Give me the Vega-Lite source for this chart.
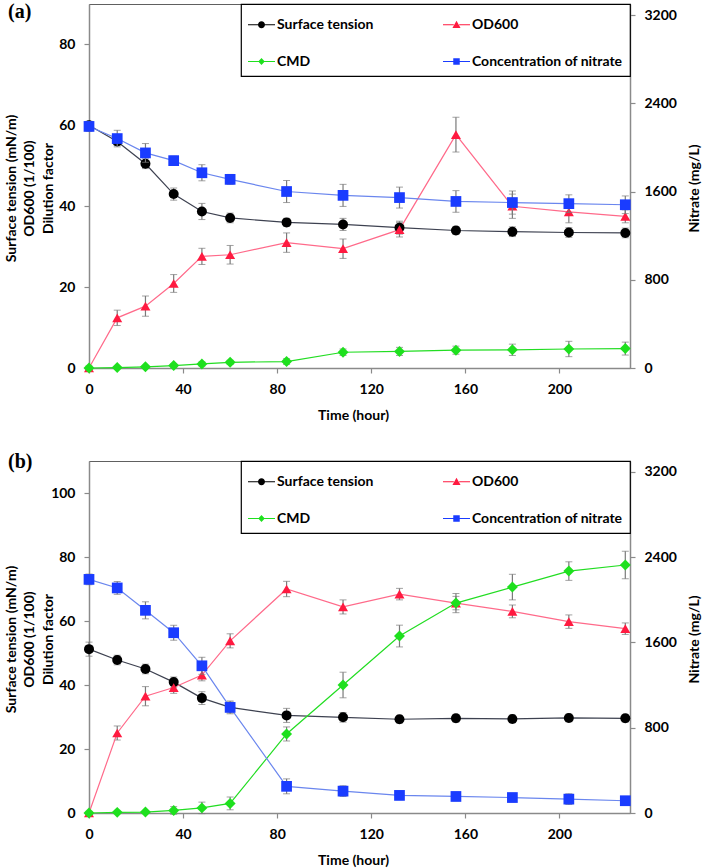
{
  "$schema": "https://vega.github.io/schema/vega-lite/v6.json",
  "padding": {"left": 3, "top": 1, "right": 0, "bottom": 0},
  "background": "white",
  "datasets": {
    "rows": [
      {"panel":"a","series":"Surface tension","t":0,"value":60,"err":1},
      {"panel":"a","series":"Surface tension","t":12,"value":56,"err":1},
      {"panel":"a","series":"Surface tension","t":24,"value":50.5,"err":1.2},
      {"panel":"a","series":"Surface tension","t":36,"value":43,"err":1.5},
      {"panel":"a","series":"Surface tension","t":48,"value":38.7,"err":2},
      {"panel":"a","series":"Surface tension","t":60,"value":37.1,"err":1.2},
      {"panel":"a","series":"Surface tension","t":84,"value":36,"err":1},
      {"panel":"a","series":"Surface tension","t":108,"value":35.5,"err":1.5},
      {"panel":"a","series":"Surface tension","t":132,"value":34.7,"err":1.6},
      {"panel":"a","series":"Surface tension","t":156,"value":34,"err":1},
      {"panel":"a","series":"Surface tension","t":180,"value":33.7,"err":1.2},
      {"panel":"a","series":"Surface tension","t":204,"value":33.5,"err":1.2},
      {"panel":"a","series":"Surface tension","t":228,"value":33.4,"err":1.2},
      {"panel":"a","series":"OD600","t":0,"value":0,"err":0.5},
      {"panel":"a","series":"OD600","t":12,"value":12.4,"err":1.9},
      {"panel":"a","series":"OD600","t":24,"value":15.3,"err":2.5},
      {"panel":"a","series":"OD600","t":36,"value":20.9,"err":2.2},
      {"panel":"a","series":"OD600","t":48,"value":27.6,"err":2},
      {"panel":"a","series":"OD600","t":60,"value":28,"err":2.3},
      {"panel":"a","series":"OD600","t":84,"value":31,"err":2.4},
      {"panel":"a","series":"OD600","t":108,"value":29.5,"err":2.4},
      {"panel":"a","series":"OD600","t":132,"value":34.2,"err":1.8},
      {"panel":"a","series":"OD600","t":156,"value":57.7,"err":4.3},
      {"panel":"a","series":"OD600","t":180,"value":40,"err":3},
      {"panel":"a","series":"OD600","t":204,"value":38.6,"err":2.7},
      {"panel":"a","series":"OD600","t":228,"value":37.5,"err":1.6},
      {"panel":"a","series":"CMD","t":0,"value":0,"err":0.2},
      {"panel":"a","series":"CMD","t":12,"value":0.1,"err":0.2},
      {"panel":"a","series":"CMD","t":24,"value":0.3,"err":0.3},
      {"panel":"a","series":"CMD","t":36,"value":0.6,"err":0.4},
      {"panel":"a","series":"CMD","t":48,"value":1,"err":0.5},
      {"panel":"a","series":"CMD","t":60,"value":1.4,"err":0.5},
      {"panel":"a","series":"CMD","t":84,"value":1.6,"err":0.7},
      {"panel":"a","series":"CMD","t":108,"value":3.9,"err":0.8},
      {"panel":"a","series":"CMD","t":132,"value":4.1,"err":1},
      {"panel":"a","series":"CMD","t":156,"value":4.4,"err":1},
      {"panel":"a","series":"CMD","t":180,"value":4.5,"err":1.4},
      {"panel":"a","series":"CMD","t":204,"value":4.7,"err":1.9},
      {"panel":"a","series":"CMD","t":228,"value":4.8,"err":1.6},
      {"panel":"a","series":"Concentration of nitrate","t":0,"value":2190,"err":45},
      {"panel":"a","series":"Concentration of nitrate","t":12,"value":2080,"err":75},
      {"panel":"a","series":"Concentration of nitrate","t":24,"value":1950,"err":85},
      {"panel":"a","series":"Concentration of nitrate","t":36,"value":1880,"err":40},
      {"panel":"a","series":"Concentration of nitrate","t":48,"value":1770,"err":73},
      {"panel":"a","series":"Concentration of nitrate","t":60,"value":1710,"err":45},
      {"panel":"a","series":"Concentration of nitrate","t":84,"value":1600,"err":100},
      {"panel":"a","series":"Concentration of nitrate","t":108,"value":1565,"err":100},
      {"panel":"a","series":"Concentration of nitrate","t":132,"value":1545,"err":95},
      {"panel":"a","series":"Concentration of nitrate","t":156,"value":1510,"err":98},
      {"panel":"a","series":"Concentration of nitrate","t":180,"value":1500,"err":105},
      {"panel":"a","series":"Concentration of nitrate","t":204,"value":1490,"err":80},
      {"panel":"a","series":"Concentration of nitrate","t":228,"value":1480,"err":80},
      {"panel":"b","series":"Surface tension","t":0,"value":51.2,"err":2.2},
      {"panel":"b","series":"Surface tension","t":12,"value":47.8,"err":1.5},
      {"panel":"b","series":"Surface tension","t":24,"value":45,"err":1.5},
      {"panel":"b","series":"Surface tension","t":36,"value":40.9,"err":1.6},
      {"panel":"b","series":"Surface tension","t":48,"value":35.9,"err":2},
      {"panel":"b","series":"Surface tension","t":60,"value":33,"err":1.7},
      {"panel":"b","series":"Surface tension","t":84,"value":30.5,"err":2.2},
      {"panel":"b","series":"Surface tension","t":108,"value":29.9,"err":1.5},
      {"panel":"b","series":"Surface tension","t":132,"value":29.3,"err":1.2},
      {"panel":"b","series":"Surface tension","t":156,"value":29.6,"err":1.2},
      {"panel":"b","series":"Surface tension","t":180,"value":29.4,"err":1.2},
      {"panel":"b","series":"Surface tension","t":204,"value":29.7,"err":1.2},
      {"panel":"b","series":"Surface tension","t":228,"value":29.6,"err":1.2},
      {"panel":"b","series":"OD600","t":0,"value":0,"err":0.5},
      {"panel":"b","series":"OD600","t":12,"value":25,"err":2.2},
      {"panel":"b","series":"OD600","t":24,"value":36.5,"err":3},
      {"panel":"b","series":"OD600","t":36,"value":39.2,"err":1.8},
      {"panel":"b","series":"OD600","t":48,"value":43.1,"err":1.8},
      {"panel":"b","series":"OD600","t":60,"value":53.8,"err":2.2},
      {"panel":"b","series":"OD600","t":84,"value":70,"err":2.4},
      {"panel":"b","series":"OD600","t":108,"value":64.4,"err":2.2},
      {"panel":"b","series":"OD600","t":132,"value":68.4,"err":1.8},
      {"panel":"b","series":"OD600","t":156,"value":65.6,"err":2.1},
      {"panel":"b","series":"OD600","t":180,"value":63,"err":2},
      {"panel":"b","series":"OD600","t":204,"value":59.8,"err":2.1},
      {"panel":"b","series":"OD600","t":228,"value":57.6,"err":1.8},
      {"panel":"b","series":"CMD","t":0,"value":0,"err":0.2},
      {"panel":"b","series":"CMD","t":12,"value":0.2,"err":0.2},
      {"panel":"b","series":"CMD","t":24,"value":0.3,"err":0.3},
      {"panel":"b","series":"CMD","t":36,"value":0.8,"err":1.2},
      {"panel":"b","series":"CMD","t":48,"value":1.6,"err":1.8},
      {"panel":"b","series":"CMD","t":60,"value":3,"err":2},
      {"panel":"b","series":"CMD","t":84,"value":24.7,"err":2.2},
      {"panel":"b","series":"CMD","t":108,"value":40,"err":4},
      {"panel":"b","series":"CMD","t":132,"value":55.3,"err":3.4},
      {"panel":"b","series":"CMD","t":156,"value":65.6,"err":3},
      {"panel":"b","series":"CMD","t":180,"value":70.6,"err":4},
      {"panel":"b","series":"CMD","t":204,"value":75.6,"err":2.9},
      {"panel":"b","series":"CMD","t":228,"value":77.5,"err":4.3},
      {"panel":"b","series":"Concentration of nitrate","t":0,"value":2190,"err":50},
      {"panel":"b","series":"Concentration of nitrate","t":12,"value":2110,"err":60},
      {"panel":"b","series":"Concentration of nitrate","t":24,"value":1900,"err":80},
      {"panel":"b","series":"Concentration of nitrate","t":36,"value":1690,"err":70},
      {"panel":"b","series":"Concentration of nitrate","t":48,"value":1380,"err":80},
      {"panel":"b","series":"Concentration of nitrate","t":60,"value":990,"err":60},
      {"panel":"b","series":"Concentration of nitrate","t":84,"value":250,"err":70},
      {"panel":"b","series":"Concentration of nitrate","t":108,"value":205,"err":50},
      {"panel":"b","series":"Concentration of nitrate","t":132,"value":165,"err":40},
      {"panel":"b","series":"Concentration of nitrate","t":156,"value":155,"err":40},
      {"panel":"b","series":"Concentration of nitrate","t":180,"value":145,"err":40},
      {"panel":"b","series":"Concentration of nitrate","t":204,"value":130,"err":50},
      {"panel":"b","series":"Concentration of nitrate","t":228,"value":115,"err":40}
    ]
  },
  "data": {"name": "rows"},
  "spacing": 28,
  "vconcat": [
    {
      "width": 541, "height": 364,
      "title": {"text": "(a)", "anchor": "start", "frame": "group", "font": "Liberation Serif", "fontSize": 20, "fontWeight": "bold", "color": "#000", "baseline": "top", "offset": -19, "dx": -81, "dy": 0},
      "transform": [{"filter": "datum.panel === 'a'"}],
      "layer": [
        {
          "transform": [{"filter": "datum.series !== 'Concentration of nitrate'"}],
          "encoding": {
            "x": {"field": "t", "type": "quantitative", "scale": {"domain": [0, 230], "nice": false}, "axis": {"values": [0, 40, 80, 120, 160, 200], "title": "Time (hour)", "titleX": 264, "titleY": 40, "titleBaseline": "top"}},
            "y": {"field": "value", "type": "quantitative", "scale": {"domain": [0, 90], "nice": false}, "axis": {"orient": "left", "values": [0, 20, 40, 60, 80], "title": ["Surface tension (mN/m)", "OD600 (1/100)", "Dilution factor"], "titleX": -78, "titleY": 184, "titleAngle": 270, "titleAlign": "center", "titleBaseline": "middle", "titleLineHeight": 18.5}}
          },
          "layer": [
            {"mark": {"type": "errorbar", "ticks": {"size": 7, "color": "#7a7a7a", "strokeWidth": 1.2}, "rule": {"color": "#7a7a7a", "strokeWidth": 1.2}}, "encoding": {"yError": {"field": "err"}}},
            {"mark": {"type": "line", "strokeWidth": 1.2}, "encoding": {"stroke": {"field": "series", "type": "nominal", "scale": {"domain": ["Surface tension", "OD600", "CMD"], "range": ["#3d4150", "#ff6a8a", "#22dd22"]}, "legend": null}}},
            {"transform": [{"filter": "datum.series === 'Surface tension'"}], "mark": {"type": "point", "filled": true, "opacity": 1, "size": 100, "shape": "circle", "color": "#000000"}},
            {"transform": [{"filter": "datum.series === 'OD600'"}], "mark": {"type": "point", "filled": true, "opacity": 1, "size": 100, "shape": "triangle-up", "color": "#ff1a40"}},
            {"transform": [{"filter": "datum.series === 'CMD'"}], "mark": {"type": "point", "filled": true, "opacity": 1, "size": 120, "shape": "diamond", "color": "#1ee01e"}}
          ]
        },
        {
          "transform": [{"filter": "datum.series === 'Concentration of nitrate'"}],
          "encoding": {
            "x": {"field": "t", "type": "quantitative", "scale": {"domain": [0, 230], "nice": false}, "axis": {"values": [0, 40, 80, 120, 160, 200], "title": "Time (hour)", "titleX": 264, "titleY": 40, "titleBaseline": "top"}},
            "y": {"field": "value", "type": "quantitative", "scale": {"domain": [0, 3300], "nice": false}, "axis": {"orient": "right", "format": "d", "values": [0, 800, 1600, 2400, 3200], "title": "Nitrate (mg/L)", "titleX": 64, "titleY": 184, "titleAngle": 270, "titleAlign": "center", "titleBaseline": "middle"}}
          },
          "layer": [
            {"mark": {"type": "errorbar", "ticks": {"size": 7, "color": "#7a7a7a", "strokeWidth": 1.2}, "rule": {"color": "#7a7a7a", "strokeWidth": 1.2}}, "encoding": {"yError": {"field": "err"}}},
            {"mark": {"type": "line", "strokeWidth": 1.2, "color": "#6a86ee"}},
            {"mark": {"type": "point", "filled": true, "opacity": 1, "size": 115, "shape": "square", "color": "#1a3cff"}}
          ]
        },
        {
          "transform": [{"filter": "datum.t < 0"}],
          "mark": {"type": "point", "filled": true, "opacity": 1, "size": 729},
          "encoding": {
            "fill": {"field": "series", "type": "nominal", "scale": {"domain": ["Surface tension", "CMD", "OD600", "Concentration of nitrate"], "range": ["#000000", "#1ee01e", "#ff1a40", "#1a3cff"]}, "legend": {"title": null}},
            "shape": {"field": "series", "type": "nominal", "scale": {"domain": ["Surface tension", "CMD", "OD600", "Concentration of nitrate"], "range": [
              "M-1,-0.04H-0.2V0.04H-1ZM0.2,-0.04H1V0.04H0.2ZM0.26,0A0.26,0.26,0,1,1,-0.26,0A0.26,0.26,0,1,1,0.26,0Z",
              "M-1,-0.04H-0.2V0.04H-1ZM0.2,-0.04H1V0.04H0.2ZM0,-0.26L0.24,0L0,0.26L-0.24,0Z",
              "M-1,-0.04H-0.2V0.04H-1ZM0.2,-0.04H1V0.04H0.2ZM0,-0.3L0.3,0.24L-0.3,0.24Z",
              "M-1,-0.04H-0.2V0.04H-1ZM0.2,-0.04H1V0.04H0.2ZM-0.24,-0.24H0.24V0.24H-0.24Z"
            ]}, "legend": {"title": null}}
          }
        }
      ],
      "resolve": {"scale": {"y": "independent"}}
    },
    {
      "width": 541, "height": 352,
      "title": {"text": "(b)", "anchor": "start", "frame": "group", "font": "Liberation Serif", "fontSize": 20, "fontWeight": "bold", "color": "#000", "baseline": "top", "offset": -12, "dx": -81, "dy": 0},
      "transform": [{"filter": "datum.panel === 'b'"}],
      "layer": [
        {
          "transform": [{"filter": "datum.series !== 'Concentration of nitrate'"}],
          "encoding": {
            "x": {"field": "t", "type": "quantitative", "scale": {"domain": [0, 230], "nice": false}, "axis": {"values": [0, 40, 80, 120, 160, 200], "title": "Time (hour)", "titleX": 264, "titleY": 40, "titleBaseline": "top"}},
            "y": {"field": "value", "type": "quantitative", "scale": {"domain": [0, 110], "nice": false}, "axis": {"orient": "left", "values": [0, 20, 40, 60, 80, 100], "title": ["Surface tension (mN/m)", "OD600 (1/100)", "Dilution factor"], "titleX": -78, "titleY": 178, "titleAngle": 270, "titleAlign": "center", "titleBaseline": "middle", "titleLineHeight": 18.5}}
          },
          "layer": [
            {"mark": {"type": "errorbar", "ticks": {"size": 7, "color": "#7a7a7a", "strokeWidth": 1.2}, "rule": {"color": "#7a7a7a", "strokeWidth": 1.2}}, "encoding": {"yError": {"field": "err"}}},
            {"mark": {"type": "line", "strokeWidth": 1.2}, "encoding": {"stroke": {"field": "series", "type": "nominal", "scale": {"domain": ["Surface tension", "OD600", "CMD"], "range": ["#3d4150", "#ff6a8a", "#22dd22"]}, "legend": null}}},
            {"transform": [{"filter": "datum.series === 'Surface tension'"}], "mark": {"type": "point", "filled": true, "opacity": 1, "size": 100, "shape": "circle", "color": "#000000"}},
            {"transform": [{"filter": "datum.series === 'OD600'"}], "mark": {"type": "point", "filled": true, "opacity": 1, "size": 100, "shape": "triangle-up", "color": "#ff1a40"}},
            {"transform": [{"filter": "datum.series === 'CMD'"}], "mark": {"type": "point", "filled": true, "opacity": 1, "size": 120, "shape": "diamond", "color": "#1ee01e"}}
          ]
        },
        {
          "transform": [{"filter": "datum.series === 'Concentration of nitrate'"}],
          "encoding": {
            "x": {"field": "t", "type": "quantitative", "scale": {"domain": [0, 230], "nice": false}, "axis": {"values": [0, 40, 80, 120, 160, 200], "title": "Time (hour)", "titleX": 264, "titleY": 40, "titleBaseline": "top"}},
            "y": {"field": "value", "type": "quantitative", "scale": {"domain": [0, 3300], "nice": false}, "axis": {"orient": "right", "format": "d", "values": [0, 800, 1600, 2400, 3200], "title": "Nitrate (mg/L)", "titleX": 64, "titleY": 178, "titleAngle": 270, "titleAlign": "center", "titleBaseline": "middle"}}
          },
          "layer": [
            {"mark": {"type": "errorbar", "ticks": {"size": 7, "color": "#7a7a7a", "strokeWidth": 1.2}, "rule": {"color": "#7a7a7a", "strokeWidth": 1.2}}, "encoding": {"yError": {"field": "err"}}},
            {"mark": {"type": "line", "strokeWidth": 1.2, "color": "#6a86ee"}},
            {"mark": {"type": "point", "filled": true, "opacity": 1, "size": 115, "shape": "square", "color": "#1a3cff"}}
          ]
        },
        {
          "transform": [{"filter": "datum.t < 0"}],
          "mark": {"type": "point", "filled": true, "opacity": 1, "size": 729},
          "encoding": {
            "fill": {"field": "series", "type": "nominal", "scale": {"domain": ["Surface tension", "CMD", "OD600", "Concentration of nitrate"], "range": ["#000000", "#1ee01e", "#ff1a40", "#1a3cff"]}, "legend": {"title": null}},
            "shape": {"field": "series", "type": "nominal", "scale": {"domain": ["Surface tension", "CMD", "OD600", "Concentration of nitrate"], "range": [
              "M-1,-0.04H-0.2V0.04H-1ZM0.2,-0.04H1V0.04H0.2ZM0.26,0A0.26,0.26,0,1,1,-0.26,0A0.26,0.26,0,1,1,0.26,0Z",
              "M-1,-0.04H-0.2V0.04H-1ZM0.2,-0.04H1V0.04H0.2ZM0,-0.26L0.24,0L0,0.26L-0.24,0Z",
              "M-1,-0.04H-0.2V0.04H-1ZM0.2,-0.04H1V0.04H0.2ZM0,-0.3L0.3,0.24L-0.3,0.24Z",
              "M-1,-0.04H-0.2V0.04H-1ZM0.2,-0.04H1V0.04H0.2ZM-0.24,-0.24H0.24V0.24H-0.24Z"
            ]}, "legend": {"title": null}}
          }
        }
      ],
      "resolve": {"scale": {"y": "independent"}}
    }
  ],
  "resolve": {"scale": {"x": "independent", "stroke": "independent", "fill": "independent", "shape": "independent"}, "legend": {"fill": "independent", "shape": "independent"}},
  "config": {
    "font": "Lato",
    "view": {"stroke": "#606060", "strokeWidth": 1},
    "axis": {"labelFont": "Lato", "labelFontSize": 14, "labelFontWeight": "bold", "labelColor": "#000", "titleFont": "Lato", "titleFontSize": 14, "titleFontWeight": "bold", "titleColor": "#000", "domainColor": "#8a8a8a", "domainWidth": 1.5, "tickColor": "#8a8a8a", "tickWidth": 1.2, "tickSize": 5, "grid": false, "labelPadding": 9, "labelFlush": false},
    "legend": {"orient": "top-right", "offset": 0, "fillColor": "white", "strokeColor": "#000", "strokeWidth": 1.2, "padding": 7, "columns": 2, "gridAlign": "all", "columnPadding": 15, "rowPadding": 16, "symbolSize": 729, "symbolStrokeWidth": 0, "labelFont": "Lato", "labelFontSize": 14, "labelFontWeight": "bold", "labelColor": "#000", "labelOffset": 2, "labelBaseline": "middle"}
  }
}
